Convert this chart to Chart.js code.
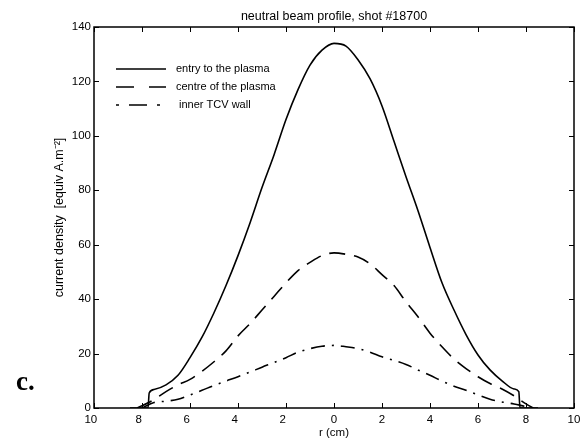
<!DOCTYPE html>
<html><head><meta charset="utf-8">
<script src="https://cdn.jsdelivr.net/npm/chart.js@4"></script>
<style>html,body{margin:0;padding:0;background:#fff}#wrap{position:relative;width:587px;height:441px}</style>
</head><body><div id="wrap"><canvas id="c" width="587" height="441"></canvas></div>
<script>
const titleText = "neutral beam profile, shot #18700";
const xTitle = "r (cm)";
const yTitle = "current density  [equiv A.m\u207B\u00B2]";
const panelLabel = "c.";
const seriesLabels = ["entry to the plasma", "centre of the plasma", " inner TCV wall"];

const entryR = [-8.5, -7.75, -7.7, -7.5, -7, -6.5, -6, -5.5, -5, -4.5, -4, -3.5, -3, -2.5, -2, -1.5, -1, -0.5, 0, 0.5, 1, 1.5, 2, 2.5, 3, 3.5, 4, 4.5, 5, 5.5, 6, 6.5, 7, 7.5, 7.7, 7.75, 8.5];
const entryJ = [0, 0, 5.5, 6.8, 8.5, 12, 18.5, 26, 35, 45, 56, 68, 81, 93, 106, 117, 126, 131.5, 134, 133, 128, 121, 111, 98, 85, 72.5, 59, 46, 36, 27, 19.5, 14, 10, 7, 6, 0, 0];

const centreR = [-8.2, -7.6, -7, -6.5, -6, -5.5, -5, -4.5, -4, -3.5, -3, -2.5, -2, -1.5, -1, -0.5, 0, 0.5, 1, 1.5, 2, 2.5, 3, 3.5, 4, 4.5, 5, 5.5, 6, 6.5, 7, 7.5, 8, 8.3];
const centreJ = [0, 2.6, 6, 8.5, 10.5, 13.5, 17, 21, 26.5, 31, 36, 41, 46, 50.5, 53.5, 56, 57, 56.5, 55.5, 53, 49, 45, 39, 33.5, 27.5, 22.5, 18, 14.5, 11.5, 9, 7, 4.5, 1.5, 0];

const wallR = [-8, -7.5, -7, -6.5, -6, -5.5, -5, -4.5, -4, -3.5, -3, -2.5, -2, -1.5, -1, -0.5, 0, 0.5, 1, 1.5, 2, 2.5, 3, 3.5, 4, 4.5, 5, 5.5, 6, 6.5, 7, 7.5, 8, 8.3];
const wallJ = [0, 2, 2.5, 3.2, 4.8, 6.5, 8.3, 9.9, 11.5, 13.2, 15, 16.7, 18.5, 20.5, 21.8, 22.7, 23, 22.5, 21.8, 20.5, 18.8, 17.5, 16, 14, 12, 9.9, 8, 6.5, 4.8, 3.2, 2.2, 1.5, 0.5, 0];

const xMin = -10, xMax = 10, xStep = 2;
const yMin = 0, yMax = 140, yStep = 20;

function pts(r, j) { return r.map((v, i) => ({x: v, y: j[i]})); }

const FONT = "'Liberation Sans', Arial, sans-serif";

const decor = {
  id: 'decor',
  afterDraw(chart) {
    const {ctx, chartArea: a, scales} = chart;
    ctx.save();
    ctx.strokeStyle = '#000';
    ctx.lineWidth = 1.5;
    ctx.strokeRect(a.left, a.top, a.right - a.left, a.bottom - a.top);
    ctx.lineWidth = 1;
    const tl = 5;
    scales.x.ticks.forEach((t, i) => {
      const px = Math.round(scales.x.getPixelForTick(i)) + 0.5;
      ctx.beginPath();
      ctx.moveTo(px, a.bottom); ctx.lineTo(px, a.bottom - tl);
      ctx.moveTo(px, a.top); ctx.lineTo(px, a.top + tl);
      ctx.stroke();
    });
    scales.y.ticks.forEach((t, i) => {
      const py = Math.round(scales.y.getPixelForTick(i)) + 0.5;
      ctx.beginPath();
      ctx.moveTo(a.left, py); ctx.lineTo(a.left + tl, py);
      ctx.moveTo(a.right, py); ctx.lineTo(a.right - tl, py);
      ctx.stroke();
    });
    // title
    ctx.fillStyle = '#000';
    ctx.font = "12.5px " + FONT;
    ctx.textAlign = 'center';
    ctx.textBaseline = 'alphabetic';
    ctx.fillText(titleText, (a.left + a.right) / 2, 20);
    // legend
    const rows = [69, 87, 105];
    ctx.font = "11px " + FONT;
    ctx.textAlign = 'left';
    ctx.textBaseline = 'middle';
    chart.data.datasets.forEach((ds, i) => {
      const y = rows[i];
      ctx.save();
      ctx.lineWidth = ds.borderWidth;
      ctx.setLineDash(ds.legendDash || []);
      ctx.beginPath();
      ctx.moveTo(116, y); ctx.lineTo(166, y);
      ctx.stroke();
      ctx.restore();
      ctx.fillText(ds.label, 176, y);
    });
    // panel label
    ctx.font = "bold 27px 'Liberation Serif', 'Times New Roman', serif";
    ctx.textBaseline = 'alphabetic';
    ctx.fillText(panelLabel, 16, 390);
    ctx.restore();
  }
};

new Chart(document.getElementById('c'), {
  type: 'line',
  data: {
    datasets: [
      {label: seriesLabels[0], data: pts(entryR, entryJ), borderColor: '#000', borderWidth: 1.6, borderDash: [], legendDash: [], pointRadius: 0, fill: false, cubicInterpolationMode: 'monotone'},
      {label: seriesLabels[1], data: pts(centreR, centreJ), borderColor: '#000', borderWidth: 1.6, borderDash: [16, 9], legendDash: [18, 15], pointRadius: 0, fill: false, cubicInterpolationMode: 'monotone'},
      {label: seriesLabels[2], data: pts(wallR, wallJ), borderColor: '#000', borderWidth: 1.6, borderDash: [14, 7, 2, 7], legendDash: [3, 10, 18, 10], pointRadius: 0, fill: false, cubicInterpolationMode: 'monotone'}
    ]
  },
  options: {
    responsive: false,
    animation: false,
    devicePixelRatio: 1,
    layout: {padding: {left: 0, right: 13, top: 27, bottom: 0}},
    plugins: {legend: {display: false}, title: {display: false}, tooltip: {enabled: false}},
    scales: {
      x: {
        type: 'linear', min: xMin, max: xMax,
        afterFit: s => { s.height = 33; },
        grid: {display: false, drawTicks: false},
        border: {display: false},
        ticks: {stepSize: xStep, color: '#000', padding: 5, font: {family: FONT, size: 11.5},
          callback: v => v < 0 ? Math.abs(v) + '\u2007' : String(v)},
        title: {display: true, text: xTitle, color: '#000', font: {family: FONT, size: 11.5}, padding: {top: 0, bottom: 1.5}}
      },
      y: {
        type: 'linear', min: yMin, max: yMax,
        afterFit: s => { s.width = 94; },
        grid: {display: false, drawTicks: false},
        border: {display: false},
        ticks: {stepSize: yStep, color: '#000', padding: 3, font: {family: FONT, size: 11.5}},
        title: {display: true, text: yTitle, color: '#000', font: {family: FONT, size: 12.5}, padding: {top: 52, bottom: 0}}
      }
    }
  },
  plugins: [decor]
});
</script></body></html>
